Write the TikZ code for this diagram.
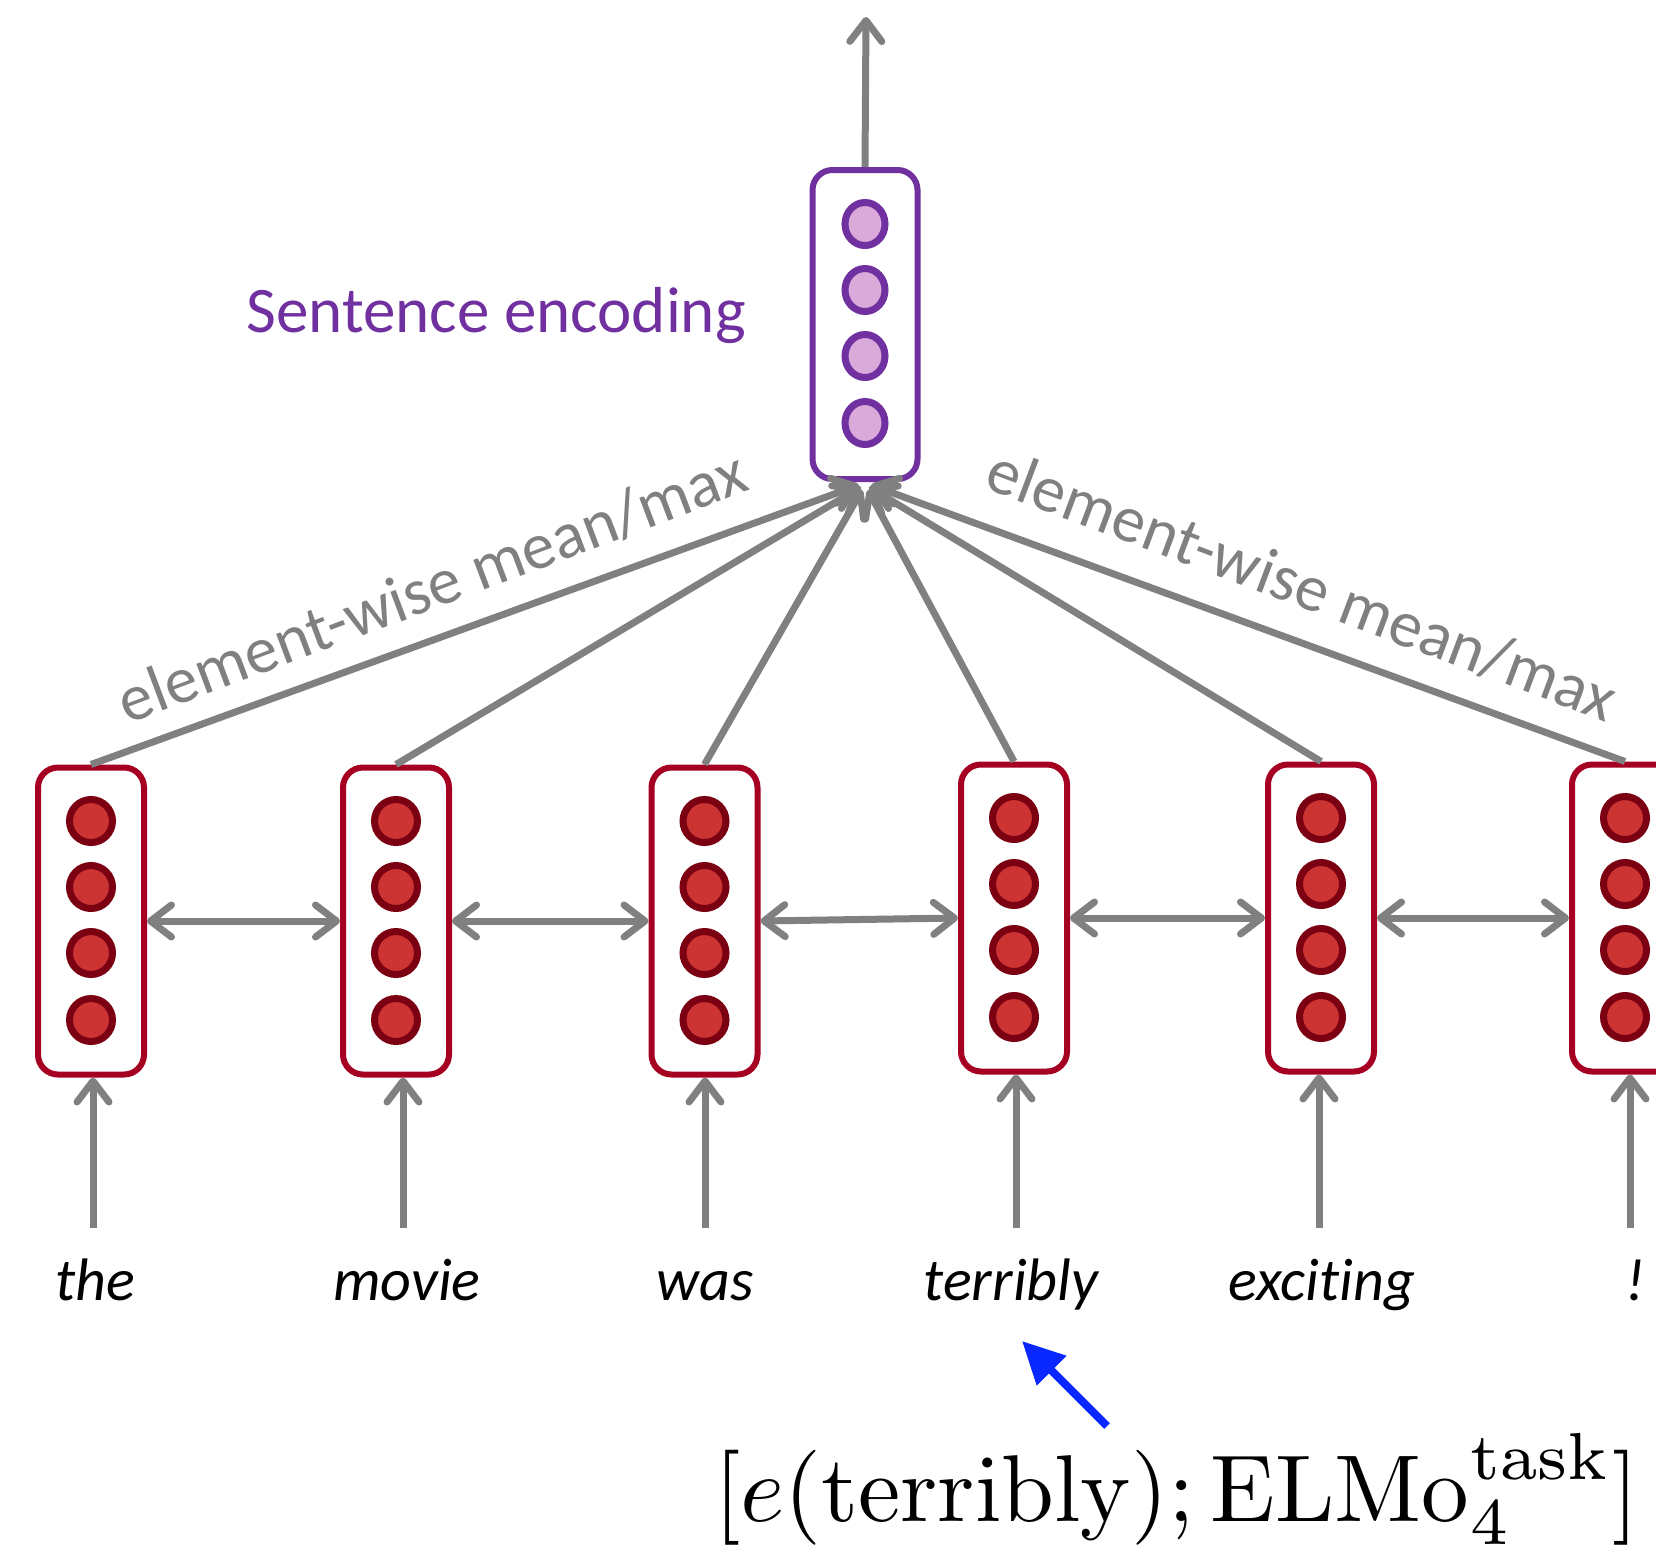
\documentclass[tikz,border=0pt]{standalone}
\usepackage{graphicx}
\usepackage[no-math]{fontspec}
\newfontfamily\calibri[Ligatures=NoCommon]{Carlito}
\usetikzlibrary{arrows.meta,shapes.geometric,calc}
\definecolor{arrgray}{RGB}{128,128,128}
\definecolor{boxred}{RGB}{165,0,33}
\definecolor{dotline}{RGB}{122,0,18}
\definecolor{dotfill}{RGB}{204,51,51}
\definecolor{encpurple}{RGB}{112,48,160}
\definecolor{encfill}{RGB}{218,170,218}
\definecolor{pointblue}{RGB}{8,40,255}
\tikzset{
  redbox/.style={draw=boxred, line width=6pt, rounded corners=20pt, fill=white,
    minimum width=106pt, minimum height=307pt, inner sep=0pt},
  encbox/.style={draw=encpurple, line width=6pt, rounded corners=20pt, fill=white,
    minimum width=105pt, minimum height=309pt, inner sep=0pt},
  reddot/.style={circle, draw=dotline, fill=dotfill, line width=7pt, minimum size=43pt, inner sep=0pt},
  encdot/.style={ellipse, draw=encpurple, fill=encfill, line width=7pt, minimum width=40pt, minimum height=43pt, inner sep=0pt},
  garrow/.style={draw=arrgray, line width=7pt, -{Straight Barb[length=21pt,width=32pt,round]}},
  gdarrow/.style={draw=arrgray, line width=7pt, {Straight Barb[length=21pt,width=32pt,round]}-{Straight Barb[length=21pt,width=32pt,round]}},
  word/.style={font=\calibri\itshape\fontsize{60}{70}\selectfont, anchor=base, inner sep=0pt},
  poollabel/.style={font=\calibri\fontsize{66}{72}\selectfont, text=arrgray, inner sep=0pt},
}
\begin{document}
\begin{tikzpicture}[x=1pt,y=-1pt]
\useasboundingbox (0,0) rectangle (1656,1545);

% encoder box
\node[encbox] (enc) at (865,324.5) {};
\foreach \k/\dy in {1/-100.5,2/-34.5,3/31.5,4/98.5}
  \node[encdot] (e\k) at ($(enc)+(0,\dy)$) {};
\node[font=\calibri\fontsize{65}{70}\selectfont, text=encpurple, anchor=base, inner sep=0pt] (senc) at (496,332) {Sentence encoding};
\coordinate (out) at (866,17);
\draw[garrow] (enc.north) -- (out);

% word boxes
\foreach \i/\x/\y in {1/91/921,2/396/921,3/704.5/921,4/1014/918,5/1321/918,6/1625/918}{
  \node[redbox] (b\i) at (\x,\y) {};
  \foreach \k/\dy in {1/-100,2/-34,3/32,4/99}
    \node[reddot] (b\i d\k) at ($(b\i)+(0,\dy)$) {};
}

% horizontal bidirectional arrows
\draw[gdarrow] (b1.east) -- (b2.west);
\draw[gdarrow] (b2.east) -- (b3.west);
\draw[gdarrow] (b3.east) -- (b4.west);
\draw[gdarrow] (b4.east) -- (b5.west);
\draw[gdarrow] (b5.east) -- (b6.west);

% pooling arrows
\coordinate (t1) at ($(enc.south)+(-6,3)$);
\coordinate (t2) at ($(enc.south)+(-4,5)$);
\coordinate (t3) at ($(enc.south)+(-3,8)$);
\coordinate (t4) at ($(enc.south)+(3,8)$);
\coordinate (t5) at ($(enc.south)+(4,5)$);
\coordinate (t6) at ($(enc.south)+(6,3)$);
\foreach \i in {1,...,6}
  \draw[garrow] (b\i.north) -- (t\i);

\node[poollabel, rotate=20.6] (ewl) at (432,587) {element-wise mean/max};
\node[poollabel, rotate=-20.6] (ewr) at (1302,585) {element-wise mean/max};

% words
\node[word] (w1) at (95,1300) {the};
\node[word] (w2) at (407,1300) {movie};
\node[word] (w3) at (705,1300) {was};
\node[word] (w4) at (1011,1300) {terribly};
\node[word] (w5) at (1322,1300) {exciting};
\node[word] (w6) at (1635,1300) {!};

% input arrows
\foreach \i/\x in {1/93,2/403,3/705,4/1016,5/1319,6/1630}{
  \coordinate (in\i) at (\x,1228);
  \draw[garrow] (in\i) -- (in\i |- b\i.south);
}

% formula and blue pointer
\node[anchor=base west, inner sep=0pt] (formula) at (714,1521)
  {\scalebox{9.5}{$[e(\mathrm{terribly});\mathrm{ELMo}_4^{\mathrm{task}}]$}};
\coordinate (bfrom) at (1107,1426);
\coordinate (bto) at (1022,1341);
\draw[draw=pointblue, fill=pointblue, line width=8pt, -{Triangle[length=42pt,width=40pt]}] (bfrom) -- (bto);
\end{tikzpicture}
\end{document}
